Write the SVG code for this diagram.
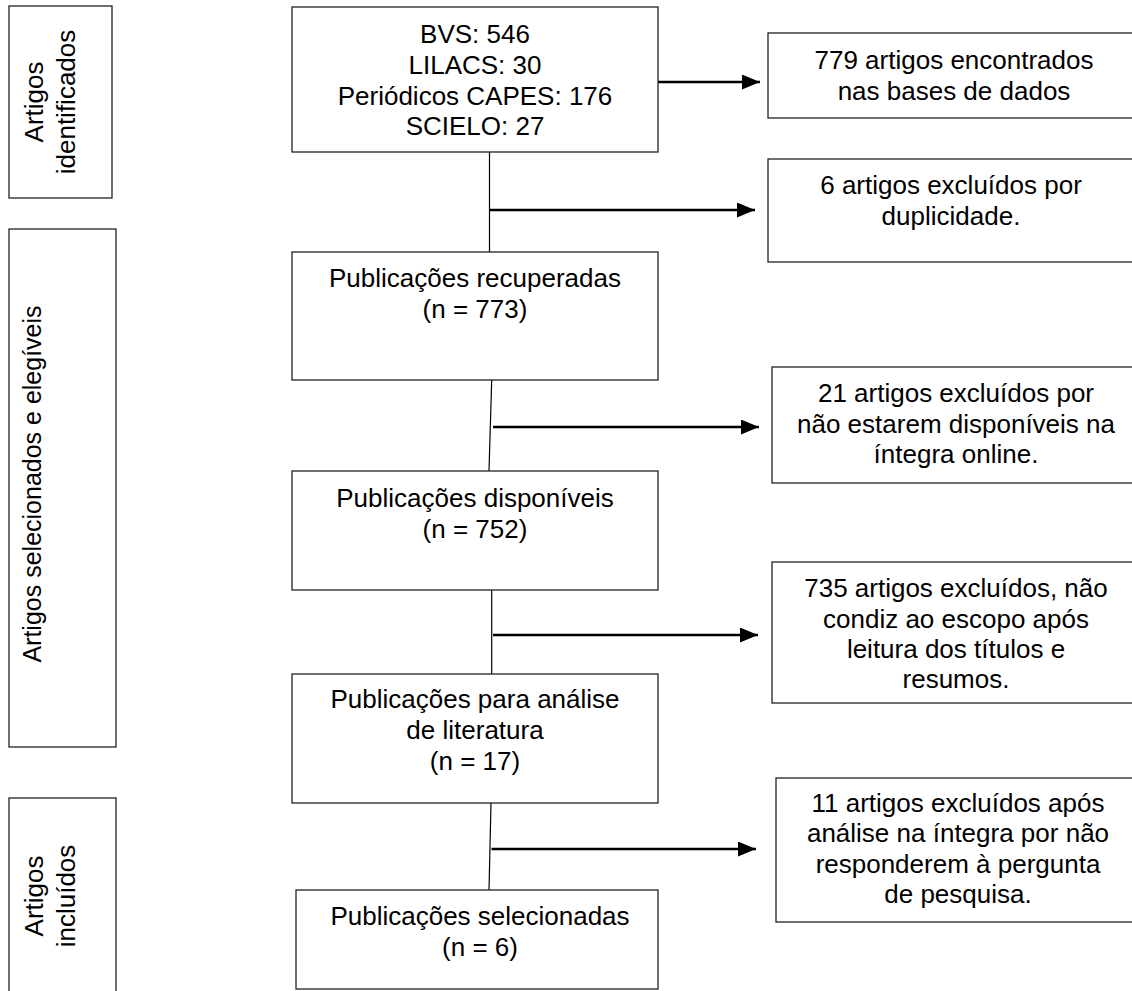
<svg xmlns="http://www.w3.org/2000/svg" width="1132" height="991" viewBox="0 0 1132 991">
<defs>
<style>
.box{fill:#fff;stroke:#222;stroke-width:1.3}
.t{font-family:"Liberation Sans",Arial,sans-serif;font-size:26px;fill:#000;text-anchor:middle}
.ln{stroke:#000;stroke-width:1.2;fill:none}
.ar{stroke:#000;stroke-width:2.4;fill:none;marker-end:url(#ah)}
</style>
<marker id="ah" markerUnits="userSpaceOnUse" markerWidth="19" markerHeight="16" refX="18" refY="7.5" orient="auto">
<path d="M0,0 L18,7.5 L0,15 z" fill="#000"/>
</marker>
</defs>
<rect width="1132" height="991" fill="#fff"/>

<g id="lbl1">
<rect class="box" x="9" y="6" width="103" height="192"/>
<text class="t" transform="translate(0,102) rotate(-90)"><tspan x="0" y="43">Artigos</tspan><tspan x="0" y="75">identificados</tspan></text>
</g>
<g id="lbl2">
<rect class="box" x="9" y="229" width="107" height="518"/>
<text class="t" style="font-size:25px" transform="translate(0,484) rotate(-90)"><tspan x="0" y="41">Artigos selecionados e elegíveis</tspan></text>
</g>
<g id="lbl3">
<rect class="box" x="9" y="798" width="107" height="200"/>
<text class="t" transform="translate(0,896) rotate(-90)"><tspan x="0" y="43">Artigos</tspan><tspan x="0" y="75">incluídos</tspan></text>
</g>

<g id="connectors">
<line class="ln" x1="489.5" y1="152" x2="489.5" y2="252"/>
<line class="ar" x1="658" y1="82" x2="760" y2="82"/>
<line class="ar" x1="489.5" y1="210" x2="755" y2="210"/>
<line class="ln" x1="491.7" y1="380" x2="489" y2="471"/>
<line class="ar" x1="493" y1="427" x2="759" y2="427"/>
<line class="ln" x1="491.7" y1="590" x2="491.7" y2="674"/>
<line class="ar" x1="493" y1="635" x2="758" y2="635"/>
<line class="ln" x1="491" y1="803" x2="489" y2="890"/>
<line class="ar" x1="491.5" y1="849" x2="756" y2="849"/>
</g>

<g id="nA">
<rect class="box" x="292" y="7" width="366" height="145"/>
<text class="t"><tspan x="475" y="43">BVS: 546</tspan><tspan x="475" y="74">LILACS: 30</tspan><tspan x="475" y="105">Periódicos CAPES: 176</tspan><tspan x="475" y="135">SCIELO: 27</tspan></text>
</g>
<g id="nB">
<rect class="box" x="292" y="252" width="366" height="128"/>
<text class="t"><tspan x="475" y="287">Publicações recuperadas</tspan><tspan x="475" y="318">(n = 773)</tspan></text>
</g>
<g id="nC">
<rect class="box" x="292" y="471" width="366" height="119"/>
<text class="t"><tspan x="475" y="507">Publicações disponíveis</tspan><tspan x="475" y="538">(n = 752)</tspan></text>
</g>
<g id="nD">
<rect class="box" x="292" y="674" width="366" height="129"/>
<text class="t"><tspan x="475" y="708">Publicações para análise</tspan><tspan x="475" y="739">de literatura</tspan><tspan x="475" y="770">(n = 17)</tspan></text>
</g>
<g id="nE">
<rect class="box" x="296" y="890" width="362" height="99"/>
<text class="t"><tspan x="480" y="925">Publicações selecionadas</tspan><tspan x="480" y="956">(n = 6)</tspan></text>
</g>

<g id="r1">
<rect class="box" x="768" y="33" width="380" height="85"/>
<text class="t"><tspan x="954" y="69">779 artigos encontrados</tspan><tspan x="954" y="100">nas bases de dados</tspan></text>
</g>
<g id="r2">
<rect class="box" x="768" y="159" width="380" height="103"/>
<text class="t"><tspan x="951" y="194">6 artigos excluídos por</tspan><tspan x="951" y="225">duplicidade.</tspan></text>
</g>
<g id="r3">
<rect class="box" x="772" y="367" width="380" height="116"/>
<text class="t"><tspan x="956" y="402">21 artigos excluídos por</tspan><tspan x="956" y="433">não estarem disponíveis na</tspan><tspan x="956" y="463">íntegra online.</tspan></text>
</g>
<g id="r4">
<rect class="box" x="772" y="562" width="380" height="141"/>
<text class="t"><tspan x="956" y="597">735 artigos excluídos, não</tspan><tspan x="956" y="628">condiz ao escopo após</tspan><tspan x="956" y="658">leitura dos títulos e</tspan><tspan x="956" y="688">resumos.</tspan></text>
</g>
<g id="r5">
<rect class="box" x="776" y="778" width="380" height="144"/>
<text class="t"><tspan x="958" y="812">11 artigos excluídos após</tspan><tspan x="958" y="842">análise na íntegra por não</tspan><tspan x="958" y="873">responderem à pergunta</tspan><tspan x="958" y="903">de pesquisa.</tspan></text>
</g>
</svg>
